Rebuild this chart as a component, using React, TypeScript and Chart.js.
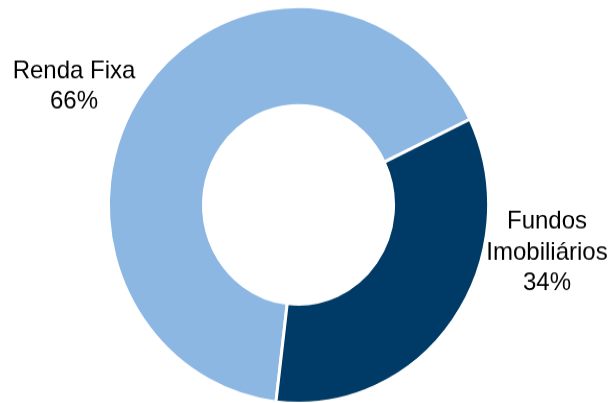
import { useEffect, useRef } from 'react';
import { Chart, DoughnutController, ArcElement } from 'chart.js';

Chart.register(DoughnutController, ArcElement);

// ---- data ----
const categories = ['Renda Fixa', 'Fundos Imobiliários'];
const values = [66, 34];
const labelLines = [['Renda Fixa'], ['Fundos', 'Imobiliários']];
const colors = ['#8DB7E3', '#003A66'];

// ---- layout ----
const W = 616;
const H = 392;
const SCALE_Y = 1.044; // reference is slightly stretched vertically
const LINE = 29.3;
// label anchors relative to the doughnut centre (first baseline)
const anchors: Array<[number, number]> = [
  [-224.5, -121.4],
  [248.5, 22.9],
];

export default function App() {
  const ref = useRef<HTMLCanvasElement>(null);

  useEffect(() => {
    const canvas = ref.current!;
    const total = values.reduce((a, b) => a + b, 0);

    const labelPlugin = {
      id: 'outsideLabels',
      afterDatasetsDraw(chart: any) {
        const meta = chart.getDatasetMeta(0);
        const arc: any = meta.data[0];
        const { x, y } = arc;
        const ctx = chart.ctx as CanvasRenderingContext2D;
        ctx.save();
        ctx.font = '24px "Liberation Sans", Arial, sans-serif';
        ctx.fillStyle = '#000000';
        ctx.textAlign = 'center';
        ctx.textBaseline = 'alphabetic';
        anchors.forEach(([dx, dy], i) => {
          const lines = [...labelLines[i], Math.round((values[i] / total) * 100) + '%'];
          lines.forEach((t, j) => ctx.fillText(t, x + dx, y + dy + j * LINE));
        });
        ctx.restore();
      },
    };

    const chart = new Chart(canvas, {
      type: 'doughnut',
      data: {
        labels: categories,
        datasets: [
          {
            data: values,
            backgroundColor: colors,
            borderColor: '#ffffff',
            borderWidth: 3,
            hoverBorderWidth: 3,
            offset: 0,
            hoverOffset: 0,
          },
        ],
      },
      options: {
        responsive: false,
        animation: false,
        events: [],
        cutout: '50%',
        rotation: 186.8,
        layout: {
          padding: { left: 106.9, right: 125.9, top: 4.76, bottom: 4 },
        },
        plugins: {
          legend: { display: false },
          tooltip: { enabled: false },
        },
      },
      plugins: [labelPlugin],
    });

    return () => chart.destroy();
  }, []);

  return (
    <div
      style={{
        position: 'fixed',
        left: 0,
        top: 0,
        width: 616,
        height: 403,
        overflow: 'hidden',
        background: '#ffffff',
      }}
    >
      <canvas
        ref={ref}
        width={W}
        height={H}
        style={{ width: W + 'px', height: H * SCALE_Y + 'px', display: 'block' }}
      />
    </div>
  );
}
